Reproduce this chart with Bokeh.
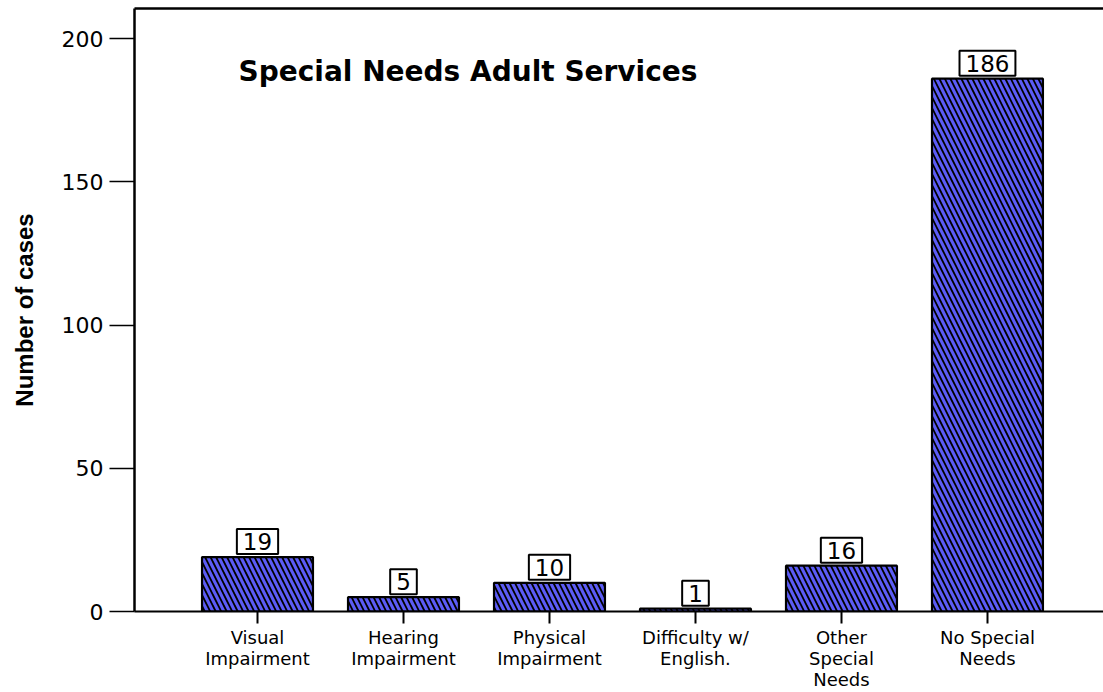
from bokeh.plotting import figure
from bokeh.models import ColumnDataSource, Label, LinearAxis, FixedTicker, Range1d
from bokeh.embed import file_html
from bokeh.resources import INLINE

categories = ["Visual\nImpairment", "Hearing\nImpairment", "Physical\nImpairment",
              "Difficulty w/\nEnglish.", "Other\nSpecial\nNeeds", "No Special\nNeeds"]
counts = [19, 5, 10, 1, 16, 186]
positions = [1, 2, 3, 4, 5, 6]
y_ticks = [0, 50, 100, 150, 200]
title_text = "Special Needs Adult Services"
y_label = "Number of cases"

src = ColumnDataSource(dict(x=positions, count=counts))

p = figure(width=1103, height=692, output_backend="svg", toolbar_location=None,
           x_range=Range1d(0.1575, 6.74 + 8 / 146), y_range=Range1d(0, 210.5),
           min_border_left=134, min_border_top=8, min_border_right=0, min_border_bottom=80,
           background_fill_color="white", border_fill_color="white")
p.outline_line_color = None
p.xgrid.visible = False
p.ygrid.visible = False

p.vbar(x="x", top="count", bottom=0, width=0.76, source=src,
       fill_color="#5c5cf6", line_color="black", line_width=2.2,
       hatch_pattern="\\", hatch_color="black", hatch_weight=1.8, hatch_scale=11)

# y axis
ya = p.yaxis[0]
ya.ticker = FixedTicker(ticks=y_ticks)
ya.major_tick_out = 25
ya.major_tick_in = 0
ya.minor_tick_line_color = None
ya.axis_line_width = 2.5
ya.major_tick_line_width = 1.5
ya.major_label_text_font = "DejaVu Sans"
ya.major_label_text_font_size = "22px"
ya.major_label_text_color = "black"
ya.major_label_standoff = 6
ya.axis_label = y_label
ya.axis_label_text_font = "Liberation Sans"
ya.axis_label_text_font_style = "bold"
ya.axis_label_text_font_size = "24px"
ya.axis_label_text_color = "black"
ya.axis_label_standoff = 21

# x axis
xa = p.xaxis[0]
xa.ticker = FixedTicker(ticks=positions)
xa.major_label_overrides = {pos: cat for pos, cat in zip(positions, categories)}
xa.major_tick_out = 12
xa.major_tick_in = 0
xa.minor_tick_line_color = None
xa.axis_line_width = 2
xa.major_tick_line_width = 2
xa.major_label_text_font = "DejaVu Sans"
xa.major_label_text_font_size = "18px"
xa.major_label_text_line_height = 1.0
xa.major_label_text_color = "black"
xa.major_label_standoff = 3

# top border line
top = LinearAxis(ticker=FixedTicker(ticks=[]), axis_line_width=2.5,
                 major_tick_line_color=None, minor_tick_line_color=None,
                 major_label_text_font_size="0px")
p.add_layout(top, "above")

for pos, c in zip(positions, counts):
    p.add_layout(Label(x=pos, y=c, text=str(c), text_align="center", text_baseline="bottom",
                       y_offset=3, text_font="DejaVu Sans", text_font_size="23px",
                       text_color="black", background_fill_color="white",
                       border_line_color="black", border_line_width=2, padding=(6, 4)))

p.add_layout(Label(x=0.87, y=188.5, text=title_text, text_font="DejaVu Sans",
                   text_font_style="bold", text_font_size="28px", text_color="black",
                   text_baseline="alphabetic"))

open("out.html", "w").write(file_html(p, INLINE))
